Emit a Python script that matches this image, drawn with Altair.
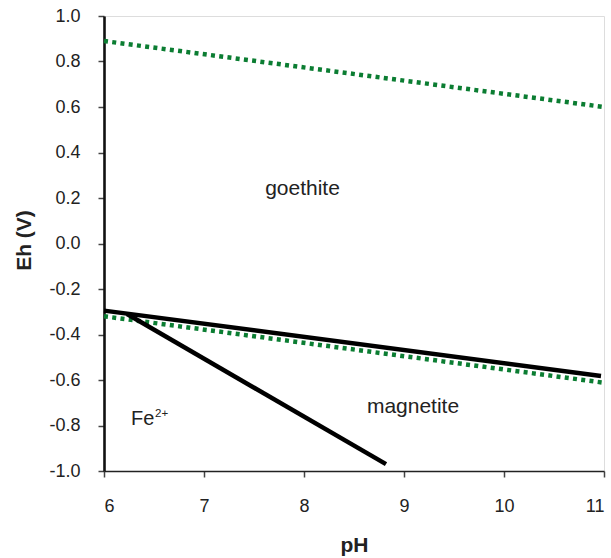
import altair as alt
import pandas as pd

# Series
upper_water_ph = [6, 11]
upper_water_eh = [0.89, 0.60]
lower_water_ph = [6, 11]
lower_water_eh = [-0.32, -0.612]
goe_mag_ph = [6, 10.97]
goe_mag_eh = [-0.295, -0.582]
fe_mag_ph = [6.23, 8.82]
fe_mag_eh = [-0.31, -0.97]

# region labels (left/center position, baseline Eh)
center_text = ["goethite", "magnetite"]
center_ph = [7.985, 9.09]
center_eh = [0.213, -0.745]
left_text = ["Fe"]
left_ph = [6.27]
left_eh = [-0.798]
sup_text = ["2+"]
sup_ph = [6.51]
sup_eh = [-0.763]

x_ticks = [6, 7, 8, 9, 10, 11]
y_ticks = [-1.0, -0.8, -0.6, -0.4, -0.2, 0.0, 0.2, 0.4, 0.6, 0.8, 1.0]

FONT = "Liberation Sans"
TXT = "#222222"

green = pd.DataFrame({
    "pH": upper_water_ph + lower_water_ph,
    "Eh": upper_water_eh + lower_water_eh,
    "s": ["up"] * 2 + ["lo"] * 2,
})
black = pd.DataFrame({
    "pH": goe_mag_ph + fe_mag_ph,
    "Eh": goe_mag_eh + fe_mag_eh,
    "s": ["a"] * 2 + ["b"] * 2,
})
clabels = pd.DataFrame({"pH": center_ph, "Eh": center_eh, "t": center_text})
llabels = pd.DataFrame({"pH": left_ph, "Eh": left_eh, "t": left_text})
sups = pd.DataFrame({"pH": sup_ph, "Eh": sup_eh, "t": sup_text})

xs = alt.Scale(domain=[6, 11], nice=False, zero=False)
ys = alt.Scale(domain=[-1, 1], nice=False, zero=False)

xax = alt.Axis(values=x_ticks, format="d", title="pH", grid=False,
               domainColor="#222", domainWidth=1.6, tickColor="#444", tickWidth=1.5,
               tickSize=6, labelFontSize=18, labelFont=FONT, labelColor=TXT,
               labelPadding=20, titleFont=FONT, titleFontSize=21, titleFontWeight="bold",
               titleColor=TXT, titleBaseline="alphabetic", titleY=80)
yax = alt.Axis(values=y_ticks, format=".1f", title="Eh (V)", grid=False,
               labelExpr="replace(datum.label, '\u2212', '-')",
               domainColor="#111", domainWidth=2.6, tickColor="#444", tickWidth=1.5,
               tickSize=6, labelFontSize=18, labelFont=FONT, labelColor=TXT,
               labelPadding=18, titleFont=FONT, titleFontSize=21, titleFontWeight="bold",
               titleColor=TXT, titleBaseline="alphabetic", titleX=-74, titleY=224,
               titleAlign="center", titleAngle=270)

g = alt.Chart(green).mark_line(color="#0b7d32", strokeWidth=4.5, strokeDash=[4, 4.3],
                               strokeCap="butt").encode(
    x=alt.X("pH:Q", scale=xs, axis=xax),
    y=alt.Y("Eh:Q", scale=ys, axis=yax),
    detail="s:N",
)
b = alt.Chart(black).mark_line(color="black", strokeWidth=4.5).encode(
    x=alt.X("pH:Q", scale=xs),
    y=alt.Y("Eh:Q", scale=ys),
    detail="s:N",
)
tc = alt.Chart(clabels).mark_text(font=FONT, fontSize=21, color=TXT, align="center",
                                  baseline="alphabetic").encode(
    x=alt.X("pH:Q", scale=xs),
    y=alt.Y("Eh:Q", scale=ys),
    text="t:N",
)
tl = alt.Chart(llabels).mark_text(font=FONT, fontSize=20, color=TXT, align="left",
                                  baseline="alphabetic").encode(
    x=alt.X("pH:Q", scale=xs),
    y=alt.Y("Eh:Q", scale=ys),
    text="t:N",
)
sp = alt.Chart(sups).mark_text(font=FONT, fontSize=11.5, color=TXT, align="left",
                               baseline="alphabetic").encode(
    x=alt.X("pH:Q", scale=xs),
    y=alt.Y("Eh:Q", scale=ys),
    text="t:N",
)

chart = alt.layer(g, b, tc, tl, sp).properties(
    width=500, height=455,
    autosize=alt.AutoSizeParams(type="none"),
    padding={"left": 104, "top": 16, "right": 7, "bottom": 87},
).configure_view(stroke="#555", strokeWidth=1.2).configure(background="white")

chart.save("out.html", embed_options={"renderer": "svg", "actions": False})
